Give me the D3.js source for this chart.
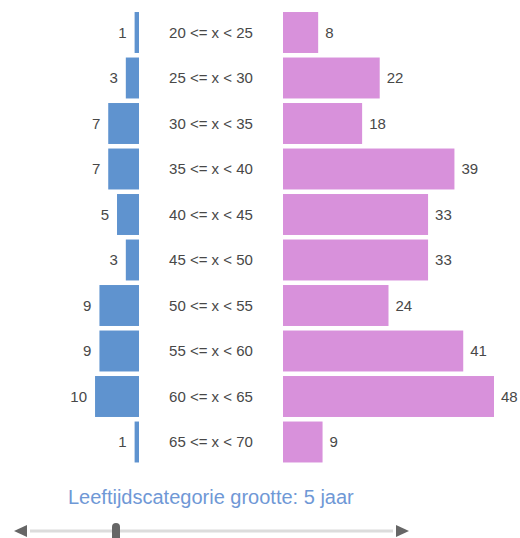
<!DOCTYPE html>
<html>
<head>
<meta charset="utf-8">
<script src="https://cdn.jsdelivr.net/npm/d3@7"></script>
<style>
  html, body { margin: 0; padding: 0; background: #fff; }
  svg { display: block; font-family: "Liberation Sans", Arial, sans-serif; }
</style>
</head>
<body>
<svg id="chart" width="520" height="538"></svg>
<script>
// Age groups and counts for the two groups shown back to back
const categories = ["20 <= x < 25", "25 <= x < 30", "30 <= x < 35", "35 <= x < 40", "40 <= x < 45",
                    "45 <= x < 50", "50 <= x < 55", "55 <= x < 60", "60 <= x < 65", "65 <= x < 70"];
const leftValues  = [1, 3, 7, 7, 5, 3, 9, 9, 10, 1];
const rightValues = [8, 22, 18, 39, 33, 33, 24, 41, 48, 9];
const title = "Leeftijdscategorie grootte: 5 jaar";

const svg = d3.select("#chart");

const y = d3.scaleBand()
  .domain(categories)
  .range([9.75, 464.75])
  .paddingInner(0.1)
  .paddingOuter(0.05);

const maxVal = 48;
const leftEdge = 139;   // right edge of the left bars
const rightEdge = 283;  // left edge of the right bars
const w = d3.scaleLinear().domain([0, maxVal]).range([0, 211]);

const blue = "#5f93cf";
const pink = "#d891db";
const textCol = "#484848";

// left bars grow leftwards
svg.append("g").selectAll("rect")
  .data(categories)
  .join("rect")
  .attr("x", (d, i) => leftEdge - w(leftValues[i]))
  .attr("y", d => y(d))
  .attr("width", (d, i) => w(leftValues[i]))
  .attr("height", y.bandwidth())
  .attr("fill", blue);

svg.append("g").selectAll("text")
  .data(categories)
  .join("text")
  .attr("x", (d, i) => leftEdge - w(leftValues[i]) - 8)
  .attr("y", d => y(d) + y.bandwidth() / 2)
  .attr("dy", "0.35em")
  .attr("text-anchor", "end")
  .attr("font-size", 15)
  .attr("fill", textCol)
  .text((d, i) => leftValues[i]);

// right bars grow rightwards
svg.append("g").selectAll("rect")
  .data(categories)
  .join("rect")
  .attr("x", rightEdge)
  .attr("y", d => y(d))
  .attr("width", (d, i) => w(rightValues[i]))
  .attr("height", y.bandwidth())
  .attr("fill", pink);

svg.append("g").selectAll("text")
  .data(categories)
  .join("text")
  .attr("x", (d, i) => rightEdge + w(rightValues[i]) + 7)
  .attr("y", d => y(d) + y.bandwidth() / 2)
  .attr("dy", "0.35em")
  .attr("font-size", 15)
  .attr("fill", textCol)
  .text((d, i) => rightValues[i]);

// category labels in the middle column
svg.append("g").selectAll("text")
  .data(categories)
  .join("text")
  .attr("x", 211)
  .attr("y", d => y(d) + y.bandwidth() / 2)
  .attr("dy", "0.35em")
  .attr("text-anchor", "middle")
  .attr("font-size", 15)
  .attr("fill", textCol)
  .text(d => d);

// caption
svg.append("text")
  .attr("x", 68)
  .attr("y", 504)
  .attr("font-size", 20)
  .attr("fill", "#6f98d6")
  .text(title);

// slider control
const slider = svg.append("g");
slider.append("line")
  .attr("x1", 30).attr("x2", 393)
  .attr("y1", 531).attr("y2", 531)
  .attr("stroke", "#dcdcdc").attr("stroke-width", 3);
slider.append("path")
  .attr("d", "M14,531 L27,525 L27,537 Z")
  .attr("fill", "#666");
slider.append("path")
  .attr("d", "M409,531 L396,525 L396,537 Z")
  .attr("fill", "#666");
slider.append("path")
  .attr("d", "M112,540 L112,527 Q112,523 116,523 Q120,523 120,527 L120,540 Z")
  .attr("fill", "#666");
</script>
</body>
</html>
